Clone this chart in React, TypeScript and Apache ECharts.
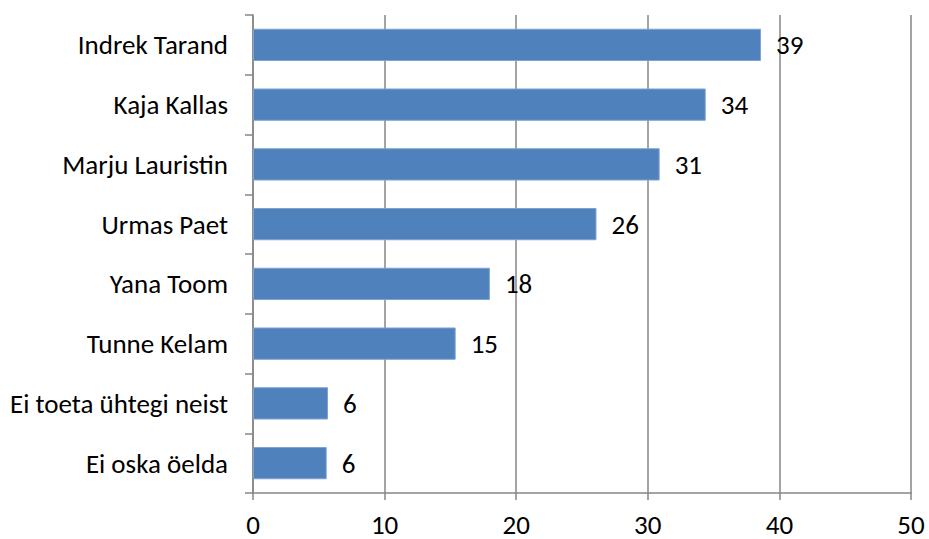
import React, { useEffect, useRef } from "react";
import * as echarts from "echarts";

const categories = [
  "Indrek Tarand",
  "Kaja Kallas",
  "Marju Lauristin",
  "Urmas Paet",
  "Yana Toom",
  "Tunne Kelam",
  "Ei toeta ühtegi neist",
  "Ei oska öelda",
];
const values = [38.6, 34.4, 30.9, 26.1, 18.0, 15.4, 5.7, 5.6];
const xTicks = [0, 10, 20, 30, 40, 50];

const FONT = "Carlito, Calibri, 'Liberation Sans', Arial, sans-serif";
const GRAY = "#868686";
const FS = 27;

export default function App() {
  const ref = useRef<HTMLDivElement>(null);
  useEffect(() => {
    if (!ref.current) return;
    const chart = echarts.init(ref.current, undefined, { renderer: "svg" });
    chart.setOption({
      animation: false,
      backgroundColor: "#ffffff",
      grid: { left: 253, right: 18, top: 15, bottom: 46, containLabel: false },
      xAxis: {
        type: "value",
        min: xTicks[0],
        max: xTicks[xTicks.length - 1],
        interval: 10,
        axisLine: { show: true, lineStyle: { color: GRAY, width: 1.5 } },
        axisTick: { show: true, length: 7, lineStyle: { color: GRAY, width: 1.5 } },
        splitLine: { show: true, lineStyle: { color: GRAY, width: 1.5 } },
        axisLabel: { color: "#000", fontSize: FS, lineHeight: 22, fontFamily: FONT, margin: 20 },
      },
      yAxis: {
        type: "category",
        data: categories,
        inverse: true,
        axisLine: { show: true, lineStyle: { color: GRAY, width: 1.5 } },
        axisTick: { show: true, length: 8, alignWithLabel: false, lineStyle: { color: GRAY, width: 1.5 } },
        splitLine: { show: false },
        axisLabel: { color: "#000", fontSize: FS, fontFamily: FONT, margin: 25 },
      },
      series: [
        {
          type: "bar",
          data: values,
          barWidth: "54%",
          itemStyle: { color: "#4F81BD", borderColor: "#7FA2D0", borderWidth: 1 },
          label: {
            show: true,
            position: "right",
            distance: 15,
            color: "#000",
            fontSize: FS,
            fontFamily: FONT,
            formatter: (p: any) => String(Math.round(p.value)),
          },
        },
      ],
    });
    return () => chart.dispose();
  }, []);
  return (
    <div
      ref={ref}
      style={{ position: "fixed", left: 0, top: 0, width: 929, height: 539, background: "#fff" }}
    />
  );
}
